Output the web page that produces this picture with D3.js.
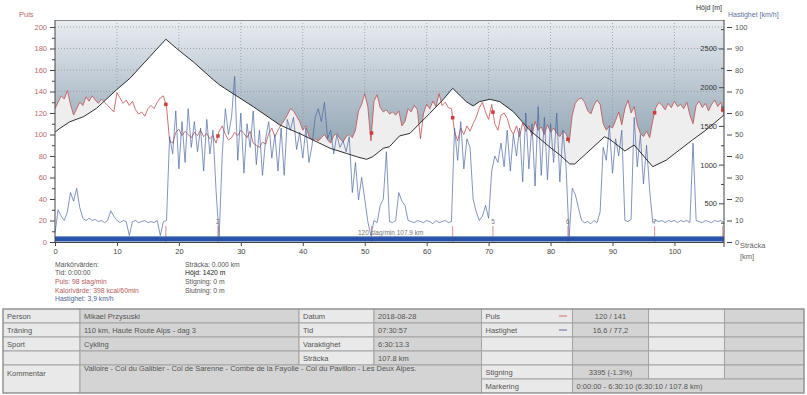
<!DOCTYPE html>
<html>
<head>
<meta charset="utf-8">
<script src="https://cdn.jsdelivr.net/npm/d3@7"></script>
<style>
  body { margin: 0; background: #fff; }
  text { font-family: "Liberation Sans", Arial, sans-serif; }
</style>
</head>
<body>
<div id="chart"></div>
<script>
// samples every 0.5 km, 0 .. 108 km
var distStep = 0.5;
var pulse = [
  124,130,136,133,141,128,118,124,130,127,135,131,136,132,129,133,130,127,124,121,
  139,134,129,132,127,131,123,119,121,117,124,127,124,130,134,136,126,94,92,102,
  105,99,103,100,97,102,99,104,98,101,96,99,92,103,108,100,95,97,102,99,
  104,101,97,103,92,90,88,93,91,101,106,98,104,109,113,118,124,122,117,112,
  104,108,98,95,96,94,97,100,95,92,99,101,96,93,98,100,97,104,122,128,
  138,126,94,131,137,125,121,123,119,121,118,122,108,112,124,121,127,123,96,120,
  128,124,131,126,138,127,130,125,124,103,94,106,100,108,103,110,116,125,130,121,
  114,128,110,104,118,120,115,105,100,108,98,111,103,108,99,112,104,107,100,109,
  102,106,101,98,103,101,92,118,129,133,134,130,122,119,127,132,128,110,104,108,
  106,113,121,109,124,132,120,126,109,101,98,103,97,113,125,130,127,123,129,125,
  131,126,128,124,130,118,110,127,131,125,129,122,128,132,126,130,118
];
var speed = [
  4,15,12,10,14,23,19,25,16,11,10,11,10,10.5,9.5,10,9,10,14.5,12,
  10,9,10,9.5,3,9.5,10,9,9.5,10,9,9.5,9,10,3,9.5,10,49,41,61,
  34,56,37,62,44,56,42,53,33,57,41,52,24,2,41,62,50,58,77,38,
  60,32,55,44,61,36,52,31,48,56,39,50,33,53,31,57,52,58,43,51,
  39,53,37,45,58,62,56,65,48,52,41,50,44,47,42,49,23,37,19.5,30,
  20,9.5,3,10,9,17,20,42,9.5,9,10,23,19,17,10,9.5,9,10,9.5,9,
  10,9.5,8.5,10,9,9.5,10,9,9.5,53,38,56,34,48,44,20,14,10,12,17,
  11,33,40,37,46,35,52,33,50,40,53,28,60,34,55,26,63,31,58,29,
  55,37,60,28,52,35,2,25,22,16,10,9,9.5,8.5,10,9,14,44,38,54,
  32,48,40,52,10,9.5,10.5,58,35,50,27,45,24,9,10,9.5,10,9,10,9.5,
  10,9,10,9.5,10,9,46,10,9.5,9,10,9.5,9,10,9.5,10,9
];
var elevKm = [0,0.8,2.4,4.6,6.7,9.9,12.1,15.3,17.9,19.6,22.3,25.6,26.6,27.4,32.0,36.3,40.0,44.4,47.0,48.7,
  50.3,51.3,53.0,54.0,55.6,57.3,60.5,62.6,64.2,66.4,67.5,68.5,70.2,71.8,74.0,76.6,79.8,81.5,83.1,83.9,
  85.8,88.7,89.5,92.0,93.5,96.5,98.7,100.8,102.9,105.1,108];
var elevM = [1420,1469,1554,1619,1727,1964,2115,2394,2620,2502,2329,2093,2028,1986,1748,1512,1382,1211,1146,1102,
  1068,1102,1211,1231,1370,1404,1662,1835,1986,1813,1757,1813,1844,1813,1683,1447,1231,1124,1008,1008,
  1146,1360,1330,1176,1253,973,1059,1189,1318,1447,1641];

var lapKm = [17.9, 26.3, 51.1, 64.2, 70.7, 82.8, 96.8, 107.8];
var lapLabel = ["", "2", "", "", "5", "6", "7", ""];

var pulsTicks = [0,20,40,60,80,100,120,140,160,180,200];
var heightTicks = [500,1000,1500,2000,2500];
var speedTicks = [0,10,20,30,40,50,60,70,80,90,100];
var distTicks = [0,10,20,30,40,50,60,70,80,90,100];

var markerLeft = [
  ["Markörvärden:", "#555"], ["Tid: 0:00:00", "#555"], ["Puls: 98 slag/min", "#b45a5a"],
  ["Kalorivärde: 398 kcal/60min", "#b45a5a"], ["Hastighet: 3,9 km/h", "#4d6494"]];
var markerRight = [
  ["Sträcka: 0.000 km", "#555"], ["Höjd: 1420 m", "#222"], ["Stigning: 0 m", "#555"], ["Slutning: 0 m", "#555"]];

var tableRows = [
  ["Person", "Mikael Przysuski", "Datum", "2018-08-28", "Puls", "120 / 141", "", ""],
  ["Träning", "110 km, Haute Route Alps - dag 3", "Tid", "07:30:57", "Hastighet", "16,6 / 77,2", "", ""],
  ["Sport", "Cykling", "Varaktighet", "6:30:13.3", "", "", "", ""],
  ["", "", "Sträcka", "107.8 km", "", "", "", ""]
];
var comment = "Valloire - Col du Galibier - Col de Sarenne - Combe de la Fayolle - Col du Pavillon - Les Deux Alpes.";
var stigRow = ["Stigning", "3395 (-1.3%)", "", ""];
var markRow = ["Markering", "0:00:00 - 6:30:10 (6:30:10 / 107.8 km)"];

var W = 807, H = 395;
var pLeft = 55, pRight = 724, pTop = 20, pBottom = 242;

var svg = d3.select("#chart").append("svg")
  .attr("width", W)
  .attr("height", H);

var x = d3.scaleLinear().domain([0, 108]).range([pLeft, pRight]);
var yPuls = d3.scaleLinear().domain([0, 200]).range([pBottom, 27]);
var ySpeed = d3.scaleLinear().domain([0, 100]).range([pBottom, 27]);
var yHeight = d3.scaleLinear().domain([0, 2500]).range([pBottom, 48.5]);

var defs = svg.append("defs");
var grad = defs.append("linearGradient").attr("id", "bg")
  .attr("gradientUnits", "userSpaceOnUse")
  .attr("x1", 0).attr("y1", pTop).attr("x2", 0).attr("y2", pBottom);
grad.append("stop").attr("offset", 0).attr("stop-color", "#e9edf1");
grad.append("stop").attr("offset", 0.4).attr("stop-color", "#aab9c5");
grad.append("stop").attr("offset", 0.65).attr("stop-color", "#8a9eae");
grad.append("stop").attr("offset", 1).attr("stop-color", "#7a92a4");
defs.append("clipPath").attr("id", "clip").append("rect")
  .attr("x", pLeft).attr("y", pTop).attr("width", pRight - pLeft).attr("height", pBottom - pTop);

svg.append("rect")
  .attr("x", pLeft).attr("y", pTop)
  .attr("width", pRight - pLeft).attr("height", pBottom - pTop)
  .attr("fill", "url(#bg)");

var plot = svg.append("g").attr("clip-path", "url(#clip)");

// grid
plot.selectAll(".vgrid").data(distTicks.slice(1))
  .enter().append("line")
  .attr("x1", d => x(d)).attr("x2", d => x(d))
  .attr("y1", pTop).attr("y2", pBottom)
  .attr("stroke", "#8e99a3").attr("stroke-dasharray", "1,2").attr("stroke-width", 0.8);
plot.selectAll(".hgrid").data([140, 160, 180, 200])
  .enter().append("line")
  .attr("x1", pLeft).attr("x2", pRight)
  .attr("y1", d => yPuls(d)).attr("y2", d => yPuls(d))
  .attr("stroke", "#8e99a3").attr("stroke-dasharray", "1,2").attr("stroke-width", 0.8);

var pulsePts = pulse.map((p, i) => [i * distStep, p]);
var speedPts = speed.map((v, i) => [i * distStep, v]);
var elevPts = elevKm.map((k, i) => [k, elevM[i]]);

plot.append("path")
  .attr("d", d3.area().x(d => x(d[0])).y0(pBottom).y1(d => yPuls(d[1]))(pulsePts))
  .attr("fill", "#eeeeee");

plot.append("path")
  .attr("d", d3.area().x(d => x(d[0])).y0(pBottom).y1(d => yHeight(d[1]))(elevPts))
  .attr("fill", "#ffffff");

plot.append("path")
  .attr("d", d3.line().x(d => x(d[0])).y(d => yPuls(d[1]))(pulsePts))
  .attr("fill", "none").attr("stroke", "#c24f4f").attr("stroke-width", 0.8);

plot.append("path")
  .attr("d", d3.line().x(d => x(d[0])).y(d => ySpeed(d[1]))(speedPts))
  .attr("fill", "none").attr("stroke", "#46649f").attr("stroke-width", 0.8).attr("stroke-opacity", 0.85);

plot.append("path")
  .attr("d", d3.line().x(d => x(d[0])).y(d => yHeight(d[1]))(elevPts))
  .attr("fill", "none").attr("stroke", "#1a1a1a").attr("stroke-width", 0.9);

// lap markers
function pulseAt(km) {
  var f = km / distStep, i = Math.floor(f), t = f - i;
  var a = pulse[i], b = pulse[Math.min(i + 1, pulse.length - 1)];
  return a + (b - a) * t;
}
plot.selectAll(".laplines").data(lapKm)
  .enter().append("line")
  .attr("x1", d => x(d)).attr("x2", d => x(d))
  .attr("y1", 226).attr("y2", pBottom)
  .attr("stroke", "#d06060").attr("stroke-width", 0.7);
plot.selectAll(".lapsq").data(lapKm)
  .enter().append("rect")
  .attr("x", d => x(d) - 1.75).attr("y", d => yPuls(pulseAt(d)) - 1.75)
  .attr("width", 3.5).attr("height", 3.5)
  .attr("fill", "#d23a3a");
svg.selectAll(".laplabel").data(lapKm)
  .enter().append("text")
  .attr("x", d => x(d)).attr("y", 224)
  .attr("text-anchor", "middle")
  .attr("font-size", "6.5px").attr("fill", "#777")
  .text((d, i) => lapLabel[i]);

// selection bar
svg.append("rect")
  .attr("x", pLeft).attr("y", 236.5)
  .attr("width", pRight - pLeft).attr("height", 5)
  .attr("fill", "#2852a8");
svg.append("line")
  .attr("x1", pLeft).attr("x2", pRight).attr("y1", 236.8).attr("y2", 236.8)
  .attr("stroke", "#5a7cc4").attr("stroke-width", 0.6);
svg.append("text")
  .attr("x", 358).attr("y", 235)
  .attr("font-size", "6.5px").attr("fill", "#777")
  .text("120 slag/min 107.9 km");

// frame
svg.append("line").attr("x1", pLeft).attr("x2", pRight).attr("y1", pTop + 0.5).attr("y2", pTop + 0.5)
  .attr("stroke", "#8a8a8a");

// axes
function styleAxis(g, color) {
  g.selectAll("text").attr("font-size", "7.5px").attr("fill", color);
  g.selectAll("line").attr("stroke", "#444");
  g.select(".domain").remove();
}

var gl = svg.append("g").attr("transform", "translate(" + pLeft + ",0)")
  .call(d3.axisLeft(yPuls).tickValues(pulsTicks).tickSize(5).tickPadding(3));
styleAxis(gl, "#b86a6a");
svg.append("g").attr("transform", "translate(" + pLeft + ",0)")
  .call(d3.axisLeft(yPuls).tickValues(d3.range(10, 200, 20)).tickSize(3).tickFormat(""))
  .call(g => { g.select(".domain").remove(); g.selectAll("line").attr("stroke", "#444"); });
svg.append("line").attr("x1", pLeft).attr("x2", pLeft).attr("y1", pTop).attr("y2", pBottom)
  .attr("stroke", "#444");

var gh = svg.append("g").attr("transform", "translate(" + pRight + ",0)")
  .call(d3.axisLeft(yHeight).tickValues(heightTicks).tickSize(5).tickPadding(2).tickFormat(d3.format("d")));
styleAxis(gh, "#333");
svg.append("g").attr("transform", "translate(" + pRight + ",0)")
  .call(d3.axisLeft(yHeight).tickValues([250, 750, 1250, 1750, 2250, 2750]).tickSize(3).tickFormat(""))
  .call(g => { g.select(".domain").remove(); g.selectAll("line").attr("stroke", "#444"); });
svg.append("line").attr("x1", pRight).attr("x2", pRight).attr("y1", pTop).attr("y2", 247)
  .attr("stroke", "#444");

var gs = svg.append("g").attr("transform", "translate(" + (pRight + 3) + ",0)")
  .call(d3.axisRight(ySpeed).tickValues(speedTicks).tickSize(5).tickPadding(3));
styleAxis(gs, "#555");

var gb = svg.append("g").attr("transform", "translate(0," + pBottom + ")")
  .call(d3.axisBottom(x).tickValues(distTicks).tickSize(4).tickPadding(3));
styleAxis(gb, "#444");
svg.append("line").attr("x1", pLeft).attr("x2", pRight).attr("y1", pBottom + 0.5).attr("y2", pBottom + 0.5)
  .attr("stroke", "#444");

// axis titles
svg.append("text").attr("x", 19).attr("y", 17).attr("font-size", "7.5px").attr("fill", "#b86a6a").text("Puls");
svg.append("text").attr("x", 722).attr("y", 10).attr("text-anchor", "end").attr("font-size", "7px").attr("fill", "#333").text("Höjd [m]");
svg.append("text").attr("x", 728).attr("y", 17).attr("font-size", "7px").attr("fill", "#5a72a3").text("Hastighet [km/h]");
svg.append("text").attr("x", 740).attr("y", 248).attr("font-size", "7.5px").attr("fill", "#666").text("Sträcka");
svg.append("text").attr("x", 740).attr("y", 259).attr("font-size", "7.5px").attr("fill", "#666").text("[km]");

// marker values
svg.selectAll(".ml").data(markerLeft).enter().append("text")
  .attr("x", 55).attr("y", (d, i) => 266.5 + i * 8.7)
  .attr("font-size", "6.8px").attr("fill", d => d[1]).text(d => d[0]);
svg.selectAll(".mr").data(markerRight).enter().append("text")
  .attr("x", 185).attr("y", (d, i) => 266.5 + i * 8.7)
  .attr("font-size", "6.8px").attr("fill", d => d[1]).text(d => d[0]);

// table
var cols = [3, 80, 299, 374, 481.5, 572.5, 648.5, 724.5, 804];
var rowTop = 309, rowH = 14;
var light = "#e9e9e9", dark = "#d4d4d4", border = "#a3a3a3", tcol = "#555";
var tbl = svg.append("g");

function cell(x0, x1, y0, y1, fill, txt, align, ty) {
  tbl.append("rect").attr("x", x0).attr("y", y0).attr("width", x1 - x0).attr("height", y1 - y0)
    .attr("fill", fill).attr("stroke", border).attr("stroke-width", 1);
  if (txt) {
    tbl.append("text")
      .attr("x", align === "middle" ? (x0 + x1) / 2 : x0 + 4)
      .attr("y", ty !== undefined ? ty : (y0 + y1) / 2 + 2.7)
      .attr("text-anchor", align === "middle" ? "middle" : "start")
      .attr("font-size", "7.5px").attr("fill", tcol).text(txt);
  }
}

tableRows.forEach(function(r, ri) {
  var y0 = rowTop + ri * rowH;
  r.forEach(function(t, ci) {
    cell(cols[ci], cols[ci + 1], y0, y0 + rowH, ci % 2 ? dark : light, t, ci === 5 ? "middle" : "start");
  });
});
// legend lines in Puls / Hastighet cells
tbl.append("line").attr("x1", 559).attr("x2", 567).attr("y1", rowTop + 7).attr("y2", rowTop + 7)
  .attr("stroke", "#d07070").attr("stroke-width", 1);
tbl.append("line").attr("x1", 559).attr("x2", 567).attr("y1", rowTop + rowH + 7).attr("y2", rowTop + rowH + 7)
  .attr("stroke", "#5a6f9a").attr("stroke-width", 1);

var y4 = rowTop + 4 * rowH, y5 = rowTop + 5 * rowH, y6 = rowTop + 6 * rowH;
cell(cols[0], cols[1], y4, y6, light, "Kommentar", "start", y4 + 11);
cell(cols[1], cols[4], y4, y6, dark, comment, "start", y4 + 6);
stigRow.forEach(function(t, i) {
  cell(cols[4 + i], cols[5 + i], y4, y5, i % 2 ? dark : light, t, i === 1 ? "middle" : "start");
});
cell(cols[4], cols[5], y5, y6, light, markRow[0], "start");
cell(cols[5], cols[8], y5, y6, dark, markRow[1], "start");
tbl.append("rect").attr("x", cols[0]).attr("y", rowTop).attr("width", cols[8] - cols[0]).attr("height", y6 - rowTop)
  .attr("fill", "none").attr("stroke", "#8a8a8a");
</script>
</body>
</html>
